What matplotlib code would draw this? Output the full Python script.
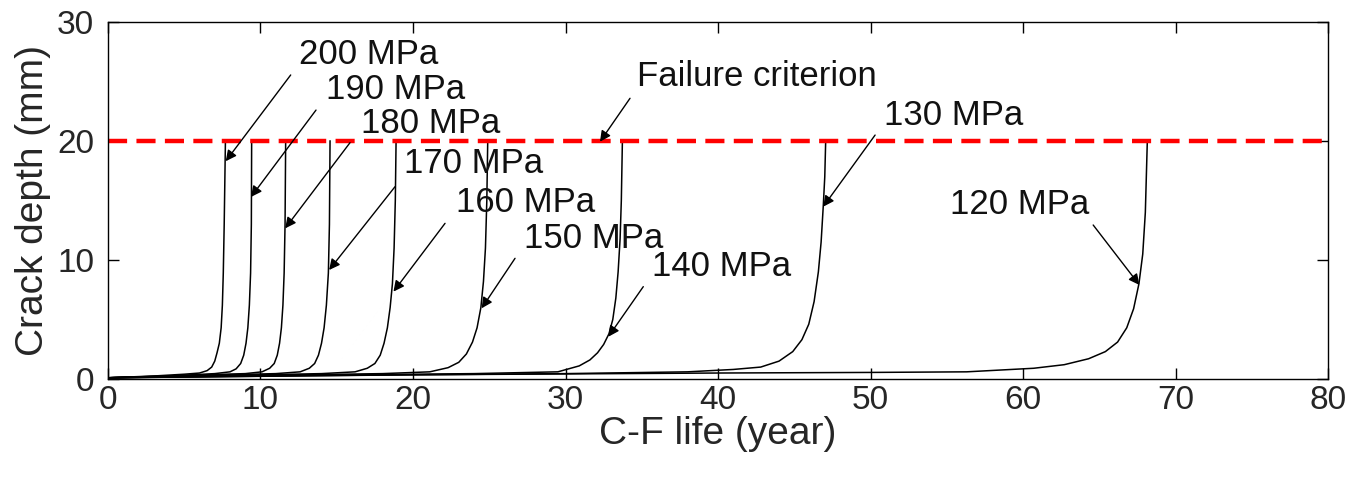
import matplotlib.pyplot as plt

plt.rcParams['font.family'] = ['Liberation Sans', 'DejaVu Sans']

# crack growth curves (year, mm)
life_200 = [0, 3, 5, 6.0, 6.5, 6.8, 7.0, 7.15, 7.3, 7.42, 7.5, 7.56, 7.62, 7.7]
depth_200 = [0.1, 0.25, 0.4, 0.5, 0.7, 1.0, 1.5, 2.2, 3.0, 4.3, 6.2, 8.9, 13, 20]
life_190 = [0, 4, 7, 8.0, 8.4, 8.7, 8.9, 9.05, 9.17, 9.27, 9.35, 9.4, 9.42]
depth_190 = [0.1, 0.25, 0.45, 0.6, 0.85, 1.3, 2.0, 3.0, 4.3, 6.2, 8.9, 13, 20]
life_180 = [0, 5, 9, 10.1, 10.6, 10.9, 11.1, 11.25, 11.37, 11.47, 11.55, 11.61, 11.65]
depth_180 = [0.1, 0.3, 0.45, 0.6, 0.9, 1.3, 2.0, 3.0, 4.3, 6.2, 8.9, 13, 20]
life_170 = [0, 6, 11, 12.6, 13.2, 13.55, 13.8, 14.0, 14.17, 14.32, 14.45, 14.52, 14.56]
depth_170 = [0.1, 0.3, 0.45, 0.6, 0.9, 1.3, 2.0, 3.0, 4.3, 6.2, 8.9, 13, 20]
life_160 = [0, 8, 14, 16.2, 17.0, 17.5, 17.85, 18.1, 18.32, 18.5, 18.65, 18.76, 18.84, 18.89]
depth_160 = [0.1, 0.3, 0.45, 0.6, 0.9, 1.3, 2.0, 3.0, 4.3, 6.0, 8.0, 11, 15, 20]
life_150 = [0, 10, 18, 21.1, 22.3, 23.0, 23.5, 23.9, 24.2, 24.45, 24.62, 24.75, 24.84, 24.9]
depth_150 = [0.1, 0.3, 0.45, 0.6, 0.95, 1.4, 2.1, 3.1, 4.3, 6.0, 8.2, 11, 15, 20]
life_140 = [0, 12, 24, 29.5, 30.9, 31.6, 32.1, 32.5, 32.85, 33.1, 33.3, 33.45, 33.58, 33.66, 33.73]
depth_140 = [0.1, 0.3, 0.45, 0.6, 1.1, 1.6, 2.2, 2.9, 3.8, 5.0, 6.8, 9.0, 11.8, 15, 20]
life_130 = [0, 15, 30, 38, 41, 42.8, 44.0, 44.9, 45.5, 45.95, 46.3, 46.58, 46.76, 46.9, 47.0, 47.06]
depth_130 = [0.1, 0.3, 0.45, 0.6, 0.8, 1.0, 1.5, 2.3, 3.3, 4.6, 6.5, 9.0, 11.5, 14.5, 17, 20]
life_120 = [0, 20, 40, 50, 56.3, 60.7, 62.7, 64.3, 65.4, 66.2, 66.8, 67.25, 67.6, 67.85, 68.02, 68.15]
depth_120 = [0.1, 0.35, 0.5, 0.55, 0.6, 0.9, 1.2, 1.7, 2.3, 3.1, 4.3, 5.9, 8.0, 10.5, 14, 20]

failure_depth = 20

fig = plt.figure(figsize=(13.67, 4.84), dpi=100)
ax = fig.add_axes([0.079, 0.217, 0.8925, 0.7375])

for x, y in [(life_200, depth_200), (life_190, depth_190), (life_180, depth_180),
             (life_170, depth_170), (life_160, depth_160), (life_150, depth_150),
             (life_140, depth_140), (life_130, depth_130), (life_120, depth_120)]:
    ax.plot(x, y, color='black', lw=1.1)

ax.plot([0, 80], [failure_depth, failure_depth], color='#ff0000', lw=3.2,
        dashes=(4.3, 2.1))

# labels with arrows: (text, text pos, arrow tail, arrow head)
notes = [
    ("200 MPa", (12.5, 27.3), (11.98, 25.55), (7.72, 18.3)),
    ("190 MPa", (14.3, 24.3), (13.64, 22.6), (9.38, 15.3)),
    ("180 MPa", (16.6, 21.5), (15.87, 19.86), (11.62, 12.66)),
    ("170 MPa", (19.4, 18.07), (18.82, 16.16), (14.5, 9.16)),
    ("160 MPa", (22.8, 14.8), (22.1, 13.08), (18.72, 7.34)),
    ("150 MPa", (27.3, 11.82), (26.69, 10.14), (24.5, 5.94)),
    ("140 MPa", (35.7, 9.44), (35.1, 7.76), (32.81, 3.55)),
    ("Failure criterion", (34.7, 25.4), (34.23, 23.59), (32.26, 19.94)),
    ("130 MPa", (50.9, 22.18), (50.3, 20.5), (46.9, 14.48)),
    ("120 MPa", (55.2, 14.7), (64.6, 12.94), (67.63, 7.9)),
]
for txt, tpos, tail, head in notes:
    ax.text(tpos[0], tpos[1], txt, fontsize=25, ha='left', va='center', color='#111111')
    ax.annotate('', xy=head, xytext=tail,
                arrowprops=dict(arrowstyle='-|>', color='black', lw=1,
                                mutation_scale=16, shrinkA=0, shrinkB=0))

ax.set_xlim(0, 80)
ax.set_ylim(0, 30)
ax.set_xticks(range(0, 81, 10))
ax.set_yticks([0, 10, 20, 30])
ax.tick_params(direction='in', length=8, width=1, top=True, right=True,
               labelsize=24, labelcolor='#262626')
ax.tick_params(axis='x', pad=4)
ax.tick_params(axis='y', pad=10)
for s in ax.spines.values():
    s.set_linewidth(1)
ax.set_xlabel("C-F life (year)", fontsize=28, color='#262626', labelpad=0)
ax.set_ylabel("Crack depth (mm)", fontsize=28, color='#262626', labelpad=4)

plt.savefig("out.png", dpi=100)
